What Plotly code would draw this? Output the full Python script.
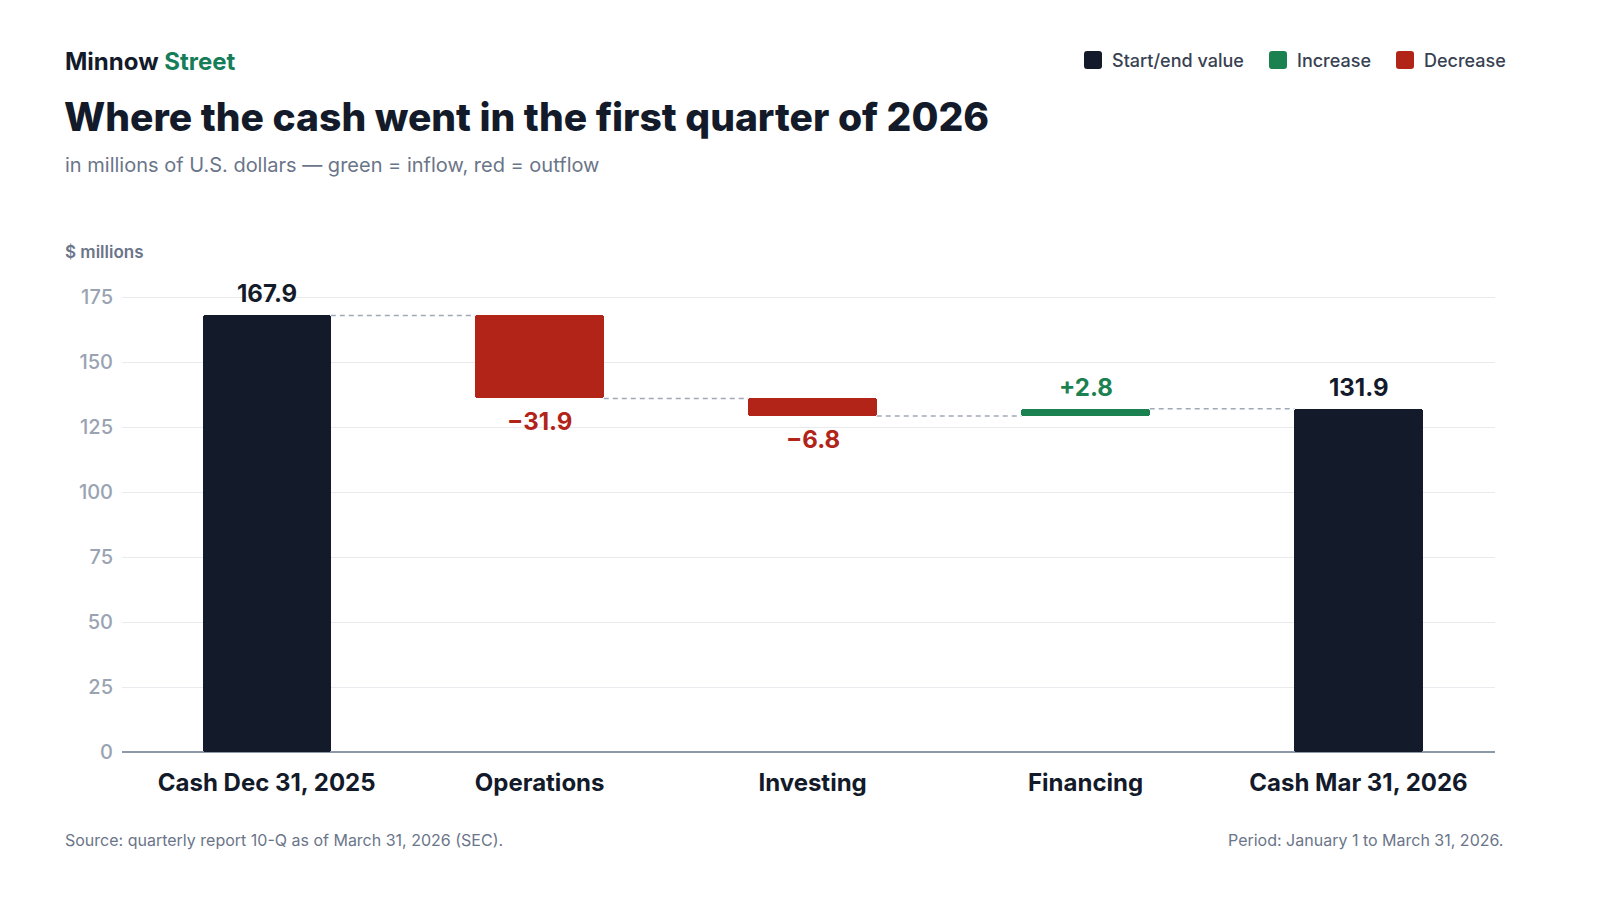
import plotly.graph_objects as go

categories = ["Cash Dec 31, 2025", "Operations", "Investing", "Financing", "Cash Mar 31, 2026"]
measures = ["absolute", "relative", "relative", "relative", "total"]
values = [167.9, -31.9, -6.8, 2.8, 131.9]
labels = ["167.9", "\u221231.9", "\u22126.8", "+2.8", "131.9"]
y_ticks = [0, 25, 50, 75, 100, 125, 150, 175]

C_TOTAL = "#131a29"
C_UP = "#1b8150"
C_DOWN = "#b22318"
C_BRAND = "#157d5a"
FONT = "Inter"

bases, heights, colors, levels = [], [], [], []
running = 0.0
for m, v in zip(measures, values):
    if m in ("absolute", "total"):
        bases.append(0)
        heights.append(v)
        colors.append(C_TOTAL)
        running = v
    else:
        start = running
        running = running + v
        bases.append(min(start, running))
        heights.append(abs(v))
        colors.append(C_UP if v >= 0 else C_DOWN)
    levels.append(running)

xs = list(range(len(categories)))
BW = 0.47

fig = go.Figure()
fig.add_trace(go.Bar(
    x=xs, y=heights, base=bases, width=BW,
    marker=dict(color=colors, line=dict(width=0), cornerradius=3),
    hoverinfo="skip", showlegend=False,
))

for i in range(len(xs) - 1):
    lvl = levels[i]
    fig.add_trace(go.Scatter(
        x=[xs[i] + BW / 2, xs[i + 1] - BW / 2], y=[lvl, lvl],
        mode="lines", line=dict(color="#a0a8b8", width=1.5, dash="5px,4px"),
        hoverinfo="skip", showlegend=False,
    ))

for i, (m, v) in enumerate(zip(measures, values)):
    top = bases[i] + heights[i]
    bot = bases[i]
    if m in ("absolute", "total"):
        col, y, yanchor, shift = C_TOTAL, top, "bottom", 5
    elif v >= 0:
        col, y, yanchor, shift = C_UP, top, "bottom", 5
    else:
        col, y, yanchor, shift = C_DOWN, bot, "top", -7
    fig.add_annotation(x=xs[i], y=y, text=labels[i], showarrow=False,
                       xanchor="center", yanchor=yanchor, yshift=shift,
                       font=dict(family=FONT, size=24, color=col, weight=700))

L, R, T, B = 122, 105, 281, 148
PW, PH = 1600 - L - R, 900 - T - B


def px(x):
    return (x - L) / PW


def py(y):
    return (900 - B - y) / PH


fig.add_annotation(xref="paper", yref="paper", x=px(63), y=py(61), xanchor="left", yanchor="middle",
                   text=f"Minnow <span style='color:{C_BRAND}'>Street</span>", showarrow=False,
                   font=dict(family=FONT, size=24, color=C_TOTAL, weight=700))
fig.add_annotation(xref="paper", yref="paper", x=px(62), y=py(116), xanchor="left", yanchor="middle",
                   text="Where the cash went in the first quarter of 2026", showarrow=False,
                   font=dict(family=FONT, size=39, color=C_TOTAL, weight=800))
fig.add_annotation(xref="paper", yref="paper", x=px(63), y=py(165), xanchor="left", yanchor="middle",
                   text="in millions of U.S. dollars \u2014 green = inflow, red = outflow", showarrow=False,
                   font=dict(family=FONT, size=20, color="#6b7589"))
fig.add_annotation(xref="paper", yref="paper", x=px(63), y=py(252), xanchor="left", yanchor="middle",
                   text="$ millions", showarrow=False,
                   font=dict(family=FONT, size=17, color="#6b7589", weight=600))
fig.add_annotation(xref="paper", yref="paper", x=px(63), y=py(840), xanchor="left", yanchor="middle",
                   text="Source: quarterly report 10-Q as of March 31, 2026 (SEC).", showarrow=False,
                   font=dict(family=FONT, size=16, color="#6b7589"))
fig.add_annotation(xref="paper", yref="paper", x=px(1505), y=py(840), xanchor="right", yanchor="middle",
                   text="Period: January 1 to March 31, 2026.", showarrow=False,
                   font=dict(family=FONT, size=16, color="#6b7589"))


def rounded_rect(x0, y0, s, r):
    X = lambda v: px(v)
    Y = lambda v: py(v)
    return (f"M {X(x0 + r)},{Y(y0)} L {X(x0 + s - r)},{Y(y0)} "
            f"Q {X(x0 + s)},{Y(y0)} {X(x0 + s)},{Y(y0 + r)} "
            f"L {X(x0 + s)},{Y(y0 + s - r)} Q {X(x0 + s)},{Y(y0 + s)} {X(x0 + s - r)},{Y(y0 + s)} "
            f"L {X(x0 + r)},{Y(y0 + s)} Q {X(x0)},{Y(y0 + s)} {X(x0)},{Y(y0 + s - r)} "
            f"L {X(x0)},{Y(y0 + r)} Q {X(x0)},{Y(y0)} {X(x0 + r)},{Y(y0)} Z")


legend_items = [("Start/end value", C_TOTAL, 1084), ("Increase", C_UP, 1269), ("Decrease", C_DOWN, 1396)]
for name, col, x0 in legend_items:
    s = 18
    y0 = 51
    fig.add_shape(type="path", xref="paper", yref="paper", path=rounded_rect(x0, y0, s, 3),
                  fillcolor=col, line=dict(width=0), layer="above")
    fig.add_annotation(xref="paper", yref="paper", x=px(x0 + s + 8), y=py(60), xanchor="left", yanchor="middle",
                       text=name, showarrow=False,
                       font=dict(family=FONT, size=18, color="#374151", weight=500))

fig.update_layout(
    width=1600, height=900,
    margin=dict(l=L, r=R, t=T, b=B, autoexpand=False),
    paper_bgcolor="white", plot_bgcolor="white",
    font=dict(family=FONT),
    showlegend=False,
    bargap=0,
    xaxis=dict(
        range=[-0.53, 4.5], tickmode="array", tickvals=xs,
        ticktext=categories,
        tickfont=dict(family=FONT, size=24, color=C_TOTAL, weight=700),
        showgrid=False, zeroline=False, showline=False, ticks="", ticklabelstandoff=14,
    ),
    yaxis=dict(
        range=[0, PH / 2.6], tickmode="array", tickvals=y_ticks,
        tickfont=dict(family=FONT, size=20, color="#9aa3b2", weight=500),
        showgrid=True, gridcolor="#e8eaee", gridwidth=1,
        zeroline=True, zerolinecolor="#8e98ab", zerolinewidth=1.5,
        showline=False, ticks="", ticklabelstandoff=8,
    ),
)

fig.write_html("out.html", config={"displayModeBar": False},
               post_script="document.body.style.margin='0';document.body.style.overflow='hidden';")
